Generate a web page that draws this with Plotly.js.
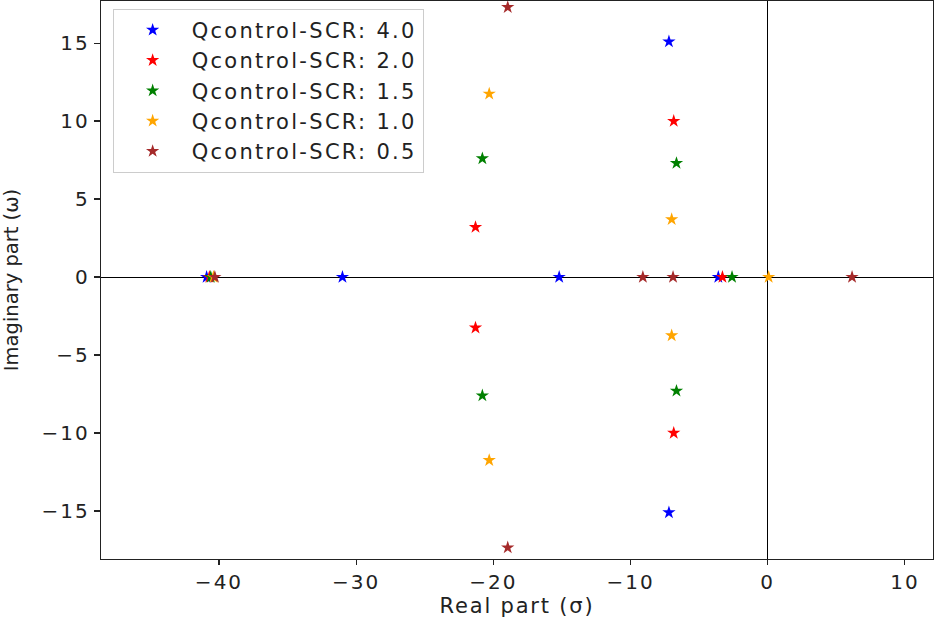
<!DOCTYPE html>
<html>
<head>
<meta charset="utf-8">
<script src="https://cdn.plot.ly/plotly-3.0.1.min.js"></script>
<style>
html, body { margin: 0; padding: 0; background: #fff; }
#chart { width: 947px; height: 620px; }
.xtick text, .ytick text { letter-spacing: 2px; }
.legendtext { letter-spacing: 2.3px; }
.xtitle { letter-spacing: 1.8px; }
</style>
</head>
<body>
<div id="chart"></div>
<script>
// Data (poles: real part sigma, imaginary part omega)
const seriesNames = ["Qcontrol-SCR: 4.0", "Qcontrol-SCR: 2.0", "Qcontrol-SCR: 1.5", "Qcontrol-SCR: 1.0", "Qcontrol-SCR: 0.5"];
const seriesColors = ["blue", "red", "green", "orange", "brown"];

const real_4_0 = [-40.9, -31.0, -15.2, -7.2, -7.2, -3.6];
const imag_4_0 = [0, 0, 0, 15.1, -15.1, 0];

const real_2_0 = [-40.7, -21.3, -21.3, -6.85, -6.85, -3.3];
const imag_2_0 = [0, 3.2, -3.25, 10.0, -10.0, 0];

const real_1_5 = [-40.6, -20.8, -20.8, -6.65, -6.65, -2.6];
const imag_1_5 = [0, 7.6, -7.6, 7.3, -7.3, 0];

const real_1_0 = [-40.4, -20.3, -20.3, -7.0, -7.0, 0.07];
const imag_1_0 = [0, 11.75, -11.75, 3.7, -3.75, 0];

const real_0_5 = [-40.3, -18.95, -18.95, -9.1, -6.9, 6.15];
const imag_0_5 = [0, 17.3, -17.35, 0, 0, 0];

const reals = [real_4_0, real_2_0, real_1_5, real_1_0, real_0_5];
const imags = [imag_4_0, imag_2_0, imag_1_5, imag_1_0, imag_0_5];

const xTicks = [-40, -30, -20, -10, 0, 10];
const yTicks = [-15, -10, -5, 0, 5, 10, 15];

const traces = seriesNames.map((name, i) => ({
  type: "scatter",
  mode: "markers",
  name: name,
  x: reals[i],
  y: imags[i],
  legendgroup: "g" + i,
  marker: { symbol: "star", size: 10, color: seriesColors[i], line: { width: 0 } }
}));

const fontFam = "DejaVu Sans, sans-serif";

const layout = {
  width: 947,
  height: 620,
  margin: { l: 101, r: 14, t: 1, b: 61 },
  paper_bgcolor: "#fff",
  plot_bgcolor: "#fff",
  font: { family: fontFam, color: "#222", size: 19 },
  showlegend: true,
  legend: {
    x: 0.014, y: 0.986, xanchor: "left", yanchor: "top",
    bgcolor: "rgba(255,255,255,0.85)",
    bordercolor: "#cccccc", borderwidth: 1,
    font: { family: fontFam, size: 21, color: "#222" },
    tracegroupgap: 2,
    traceorder: "normal",
    itemwidth: 68
  },
  xaxis: {
    range: [-48.6, 12.05],
    tickvals: xTicks,
    ticks: "outside", ticklen: 5, tickwidth: 1.2, tickcolor: "#222",
    showline: true, linecolor: "#222", linewidth: 1.2, mirror: true,
    showgrid: false,
    zeroline: true, zerolinecolor: "#000", zerolinewidth: 1,
    tickfont: { family: fontFam, size: 20, color: "#222" },
    title: { text: "Real part (σ)", font: { family: fontFam, size: 21, color: "#222" }, standoff: 5 }
  },
  yaxis: {
    range: [-18.08, 17.7],
    tickvals: yTicks,
    ticks: "outside", ticklen: 6, tickwidth: 1.2, tickcolor: "#222",
    showline: true, linecolor: "#222", linewidth: 1.2, mirror: true,
    showgrid: false,
    zeroline: true, zerolinecolor: "#000", zerolinewidth: 1,
    tickfont: { family: fontFam, size: 20, color: "#222" },
    title: { text: "Imaginary part (ω)", font: { family: fontFam, size: 19.5, color: "#222" }, standoff: 17 }
  }
};

Plotly.newPlot("chart", traces, layout, { displayModeBar: false, staticPlot: true });
</script>
</body>
</html>
